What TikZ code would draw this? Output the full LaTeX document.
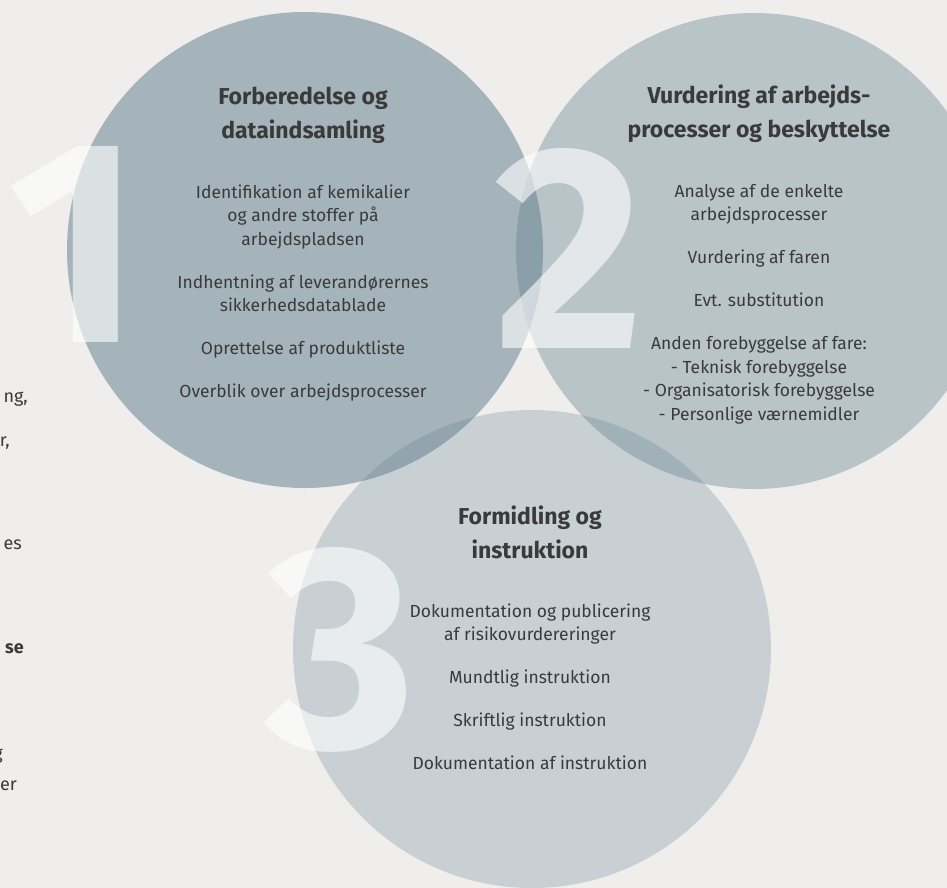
\documentclass[tikz,border=0pt]{standalone}
\usepackage{fontspec}
\setmainfont{Fira Sans}
\definecolor{bgcol}{HTML}{EFEEEC}
\definecolor{circcol}{RGB}{95,125,140}
\definecolor{txtcol}{HTML}{3A3A3A}

\begin{document}
\begin{tikzpicture}[x=1pt,y=-1pt,
  every node/.style={text=txtcol},
  head/.style={font=\bfseries\fontsize{23}{34}\selectfont, align=center},
  body/.style={font=\fontsize{17.5}{23.5}\selectfont, align=center},
  bignum/.style={font=\bfseries\fontsize{290}{290}\selectfont, text=white, text opacity=0.6, inner sep=0pt},
  cut/.style={font=\fontsize{18}{20}\selectfont, anchor=mid east, inner sep=0pt}]
\fill[bgcol] (0,0) rectangle (947,888);
\useasboundingbox (0,0) rectangle (947,888);
\clip (0,0) rectangle (947,888);

\fill[circcol, fill opacity=0.51] (305,250) circle (238pt);
\fill[circcol, fill opacity=0.37] (754,251) circle (238pt);
\fill[circcol, fill opacity=0.26] (532,649) circle (239pt);

\node[bignum] (num1) at (75,244) {1};
\node[bignum] (num2) at (569,248) {2};
\node[bignum] (num3) at (341,650) {3};

\node[head] (head1) at (303,115) {Forberedelse og\\dataindsamling};
\node[body] (body1) at (303,293) {Identifikation af kemikalier\\og andre stoffer på\\arbejdspladsen\\[19.5pt]Indhentning af leverandørernes\\sikkerhedsdatablade\\[19.5pt]Oprettelse af produktliste\\[19.5pt]Overblik over arbejdsprocesser};

\node[head] (head2) at (759,114) {Vurdering af arbejds-\\processer og beskyttelse};
\node[body] (body2) at (759,304) {Analyse af de enkelte\\arbejdsprocesser\\[19.5pt]Vurdering af faren\\[19.5pt]Evt. substitution\\[19.5pt]Anden forebyggelse af fare:\\- Teknisk forebyggelse\\- Organisatorisk forebyggelse\\- Personlige værnemidler};

\node[head] (head3) at (530,532) {Formidling og\\instruktion};
\node[body] (body3) at (530,687) {Dokumentation og publicering\\af risikovurdereringer\\[19.5pt]Mundtlig instruktion\\[19.5pt]Skriftlig instruktion\\[19.5pt]Dokumentation af instruktion};

\node[cut] (cut1) at (28,400) {ng,};
\node[cut] (cut2) at (10,444) {r,};
\node[cut] (cut3) at (22,547) {es};
\node[cut, font=\bfseries\fontsize{18}{20}\selectfont] (cut4) at (24,651) {se};
\node[cut] (cut5) at (3,757) {g};
\node[cut] (cut6) at (17,788) {er};
\end{tikzpicture}
\end{document}
